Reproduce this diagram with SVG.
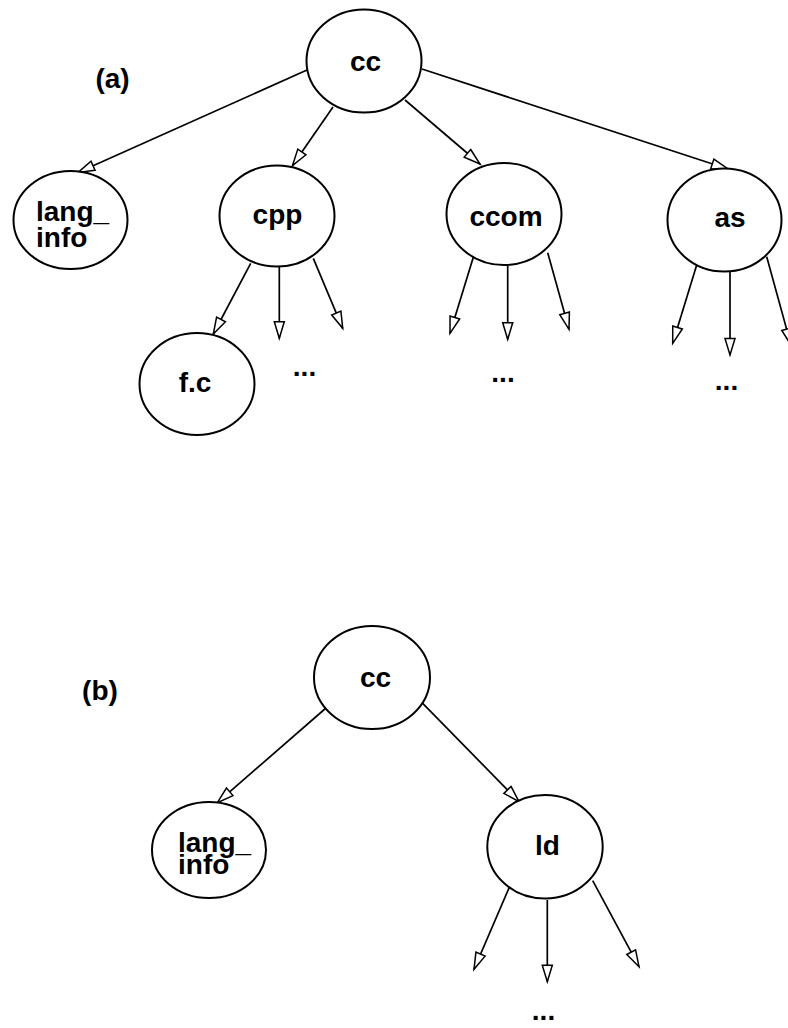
<svg xmlns="http://www.w3.org/2000/svg" width="788" height="1028" viewBox="0 0 788 1028">
  <style>
    .node ellipse { fill: #ffffff; stroke: #000000; stroke-width: 2; }
    .node text, .label, .more { font-family: "Liberation Sans", Arial, sans-serif; font-weight: bold; font-size: 28px; fill: #000000; }
    .mid { text-anchor: middle; }
    #edges line { stroke: #000000; stroke-width: 1.7; marker-end: url(#open-arrow); }
  </style>
  <defs>
    <marker id="open-arrow" markerUnits="userSpaceOnUse" markerWidth="22" markerHeight="14" viewBox="-1 -7 19 14" refX="16.5" refY="0" orient="auto">
      <path d="M0,-5 L16.5,0 L0,5 Z" fill="#ffffff" stroke="#000000" stroke-width="1.5"/>
    </marker>
  </defs>
  <rect width="788" height="1028" fill="#ffffff"/>

  <!-- connectors -->
  <g id="edges">
    <!-- tree (a) -->
    <line x1="307" y1="70" x2="78" y2="172.5"/>
    <line x1="333" y1="107" x2="292.5" y2="165.5"/>
    <line x1="405" y1="100" x2="480" y2="164"/>
    <line x1="422" y1="69" x2="728" y2="169"/>
    <line x1="250.7" y1="263.3" x2="213.3" y2="334"/>
    <line x1="279.3" y1="266.7" x2="279.3" y2="338.3"/>
    <line x1="313.3" y1="258.3" x2="342.7" y2="328.3"/>
    <line x1="474" y1="255" x2="450" y2="333.3"/>
    <line x1="507.7" y1="266" x2="507.7" y2="339.3"/>
    <line x1="547.7" y1="252.7" x2="569" y2="329.3"/>
    <line x1="696.7" y1="265" x2="672.7" y2="343.3"/>
    <line x1="730" y1="268.3" x2="730" y2="355"/>
    <line x1="766.7" y1="256.7" x2="791" y2="345"/>
    <!-- tree (b) -->
    <line x1="328.3" y1="706" x2="217.3" y2="802.7"/>
    <line x1="422.7" y1="703.3" x2="519" y2="801.7"/>
    <line x1="509.3" y1="887.3" x2="474" y2="969.3"/>
    <line x1="547.3" y1="900" x2="547.3" y2="981.7"/>
    <line x1="592.7" y1="880.7" x2="639" y2="966.7"/>
  </g>

  <!-- tree (a) -->
  <text class="label mid" x="112.5" y="88">(a)</text>
  <g id="a-cc" class="node">
    <ellipse cx="364" cy="61" rx="57.5" ry="51.5"/>
    <text class="mid" x="365.5" y="70.5">cc</text>
  </g>
  <g id="a-lang-info" class="node">
    <ellipse cx="70.5" cy="220" rx="57" ry="49"/>
    <text x="36" y="220.5">lang_</text>
    <text x="36" y="247">info</text>
  </g>
  <g id="a-cpp" class="node">
    <ellipse cx="277" cy="216" rx="57.5" ry="50.5"/>
    <text class="mid" x="277.5" y="224">cpp</text>
  </g>
  <g id="a-ccom" class="node">
    <ellipse cx="504" cy="214" rx="57.5" ry="51"/>
    <text class="mid" x="506" y="226">ccom</text>
  </g>
  <g id="a-as" class="node">
    <ellipse cx="724.5" cy="220" rx="57" ry="51.5"/>
    <text class="mid" x="730" y="227">as</text>
  </g>
  <g id="a-fc" class="node">
    <ellipse cx="197" cy="384" rx="57.5" ry="51"/>
    <text class="mid" x="195" y="391.5">f.c</text>
  </g>
  <text class="more mid" x="304.5" y="376">...</text>
  <text class="more mid" x="503" y="381.5">...</text>
  <text class="more mid" x="726.5" y="390">...</text>

  <!-- tree (b) -->
  <text class="label mid" x="100" y="700">(b)</text>
  <g id="b-cc" class="node">
    <ellipse cx="372" cy="677.5" rx="58" ry="51.5"/>
    <text class="mid" x="375.5" y="686.5">cc</text>
  </g>
  <g id="b-lang-info" class="node">
    <ellipse cx="209" cy="850" rx="57" ry="48"/>
    <text x="178" y="852">lang_</text>
    <text x="178" y="873.5">info</text>
  </g>
  <g id="b-ld" class="node">
    <ellipse cx="545" cy="846.7" rx="57.7" ry="51.7"/>
    <text class="mid" x="547.5" y="855">ld</text>
  </g>
  <text class="more mid" x="543.5" y="1020">...</text>
</svg>
